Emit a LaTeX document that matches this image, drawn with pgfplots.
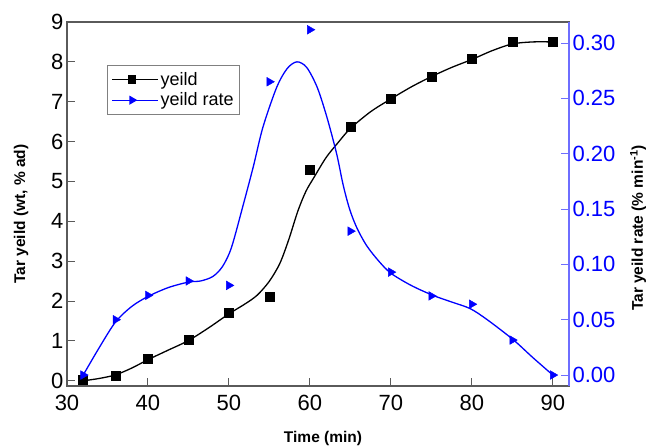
\documentclass[border=0pt]{standalone}
\usepackage{pgfplots}
\pgfplotsset{compat=1.18}
\usepackage{fontspec}
\setmainfont{Liberation Sans}
\definecolor{rateblue}{RGB}{0,0,255}
\definecolor{spineblue}{RGB}{110,110,255}
\definecolor{spinegray}{RGB}{90,90,90}

\begin{document}
\begin{tikzpicture}
\pgfplotsset{
  every axis/.append style={
    width=502pt, height=364pt, scale only axis,
    xmin=30, xmax=92,
    clip=false,
    /pgf/number format/assume math mode=true,
    tick align=inside,
    major tick length=8pt,
    tick label style={font=\fontsize{22}{24}\selectfont},
    label style={font=\fontsize{15.5}{18}\selectfont\bfseries},
  }
}
\begin{axis}[
  ymin=-0.13, ymax=9,
  xtick={30,40,50,60,70,80,90}, ytick={0,1,2,3,4,5,6,7,8,9},
  xtick pos=left, ytick pos=left,
  axis line style={spinegray, line width=1.2pt},
  every tick/.style={spinegray, line width=1pt},
  xticklabel style={yshift=-6pt},
  xlabel={Time (min)}, ylabel={Tar yeild (wt, \% ad)},
  xlabel style={at={(axis description cs:0.51,-0.143)}, anchor=center},
  ylabel style={at={(axis description cs:-0.0916,0.4725)}, anchor=center},
  legend style={at={(axis description cs:0.0797,0.882)}, anchor=north west,
    draw=gray, line width=0.8pt, font=\fontsize{18}{20}\selectfont,
    inner xsep=4pt, inner ysep=5pt, row sep=2pt, cells={anchor=west}},
  legend image code/.code={\draw[mark repeat=2, mark phase=2] plot coordinates {(0pt,0pt) (20pt,0pt) (40pt,0pt)};
    \path (0pt,0pt) -- (46pt,0pt);},
]
\addplot[black, line width=1.3pt, smooth, forget plot] coordinates {
(32,0.0) (34,0.06) (36,0.15) (38,0.32) (40,0.53) (42.5,0.77) (45,1.01)
(47.5,1.33) (50,1.68) (52,1.93) (53.5,2.15) (55,2.5) (56.3,2.95) (57.4,3.55)
(58.5,4.25) (59.5,4.75) (60.5,5.1) (62,5.6) (63.5,5.98) (65,6.33) (67.5,6.75) (70,7.07)
(72.5,7.37) (75,7.63) (77.5,7.86) (80,8.06) (82.5,8.28) (85,8.45) (87.5,8.5) (90,8.5)
};
\addplot[only marks, mark=square*, mark size=4.5pt, black, forget plot] coordinates {
(32,0.02) (36,0.13) (40,0.55) (45,1.03) (50,1.70) (55,2.12) (60,5.29)
(65,6.37) (70,7.07) (75,7.64) (80,8.07) (85,8.50) (90,8.50)
};
\addlegendimage{black, line width=1.3pt, mark=square*, mark size=3.5pt}
\addlegendentry{yeild}
\addlegendimage{rateblue, line width=1.3pt, mark=triangle*, mark size=4pt, mark options={rotate=-90}}
\addlegendentry{yeild rate}
\end{axis}

\begin{axis}[
  ymin=-0.0099, ymax=0.319,
  axis y line*=right, axis x line=none,
  ytick={0,0.05,0.1,0.15,0.2,0.25,0.3},
  yticklabel style={color=rateblue, /pgf/number format/fixed, /pgf/number format/fixed zerofill, /pgf/number format/precision=2},
  y axis line style={spineblue, line width=1.2pt},
  ytick style={spineblue, line width=1pt},
  ylabel={Tar yeild rate (\% min\textsuperscript{-1})},
  ylabel style={at={(axis description cs:1.1375,0.434)}, anchor=center},
]
\addplot[rateblue, line width=1.3pt, smooth] coordinates {
(32,0.0) (34,0.025) (36,0.048) (38,0.062) (40,0.071) (42.5,0.079) (45,0.084)
(46.5,0.085) (48,0.089) (49.2,0.098) (50.3,0.115) (51.7,0.152) (53,0.188) (54.2,0.224)
(55.9,0.26) (57.2,0.277) (58.4,0.283) (59.6,0.278) (60.9,0.26) (62.1,0.233)
(63.3,0.2) (64.1,0.172) (64.9,0.15) (65.8,0.133) (67,0.117) (68.5,0.103) (70,0.092)
(72.5,0.081) (75.2,0.072) (77.5,0.066) (79.8,0.06) (81.9,0.05) (85.1,0.032)
(87.5,0.016) (90,0.0)
};
\addplot[only marks, mark=triangle*, mark size=5pt, mark options={rotate=-90}, rateblue] coordinates {
(32,0.0) (36,0.05) (40,0.072) (45,0.085) (50,0.081) (55,0.265) (60,0.312)
(65,0.13) (70,0.093) (75,0.0715) (80,0.064) (85,0.0316) (90,0.0)
};
\end{axis}
\pgfresetboundingbox
\path (-67pt,-59pt) rectangle (579pt,386pt);
\end{tikzpicture}
\end{document}
